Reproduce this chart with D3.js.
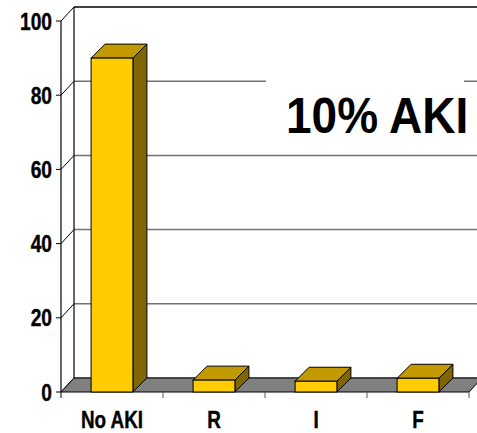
<!DOCTYPE html>
<html>
<head>
<meta charset="utf-8">
<script src="https://cdn.jsdelivr.net/npm/d3@7"></script>
<style>
  html, body { margin: 0; padding: 0; background: #fff; }
  svg { display: block; }
  text { font-family: "Liberation Sans", Arial, Helvetica, sans-serif; font-weight: bold; fill: #000; }
</style>
</head>
<body>
<svg id="chart" width="477" height="433"></svg>
<script>
// RIFLE classification counts (% of patients)
const categories = ["No AKI", "R", "I", "F"];
const values = [90, 3.2, 2.9, 3.7];
const yTicks = [0, 20, 40, 60, 80, 100];
const titleText = "10% AKI";

const svg = d3.select("#chart");

// Front plane of the 3D box
const x = d3.scaleBand()
  .domain(categories)
  .range([61, 469])
  .paddingInner(0.59)
  .paddingOuter(0.295);
const y = d3.scaleLinear().domain([0, 100]).range([392, 21]);

// Depth offsets: walls / bars
const WDX = 13, WDY = -14;
const BDX = 14, BDY = -14;

const gray = "#737373";

// Back-wall gridlines
const grid = svg.append("g");
yTicks.forEach(v => {
  grid.append("line")
    .attr("x1", 61 + WDX).attr("x2", 490)
    .attr("y1", y(v) + WDY).attr("y2", y(v) + WDY)
    .attr("stroke", v === 100 ? "#000" : gray)
    .attr("stroke-width", 1.5);
});
// Back wall left edge
grid.append("line")
  .attr("x1", 61 + WDX).attr("x2", 61 + WDX)
  .attr("y1", y(100) + WDY).attr("y2", y(0) + WDY)
  .attr("stroke", "#000").attr("stroke-width", 1.2);

// Side-wall diagonals at each tick
yTicks.forEach(v => {
  grid.append("line")
    .attr("x1", 61).attr("y1", y(v))
    .attr("x2", 61 + WDX).attr("y2", y(v) + WDY)
    .attr("stroke", "#000").attr("stroke-width", 1);
});

// Title label with white backing
svg.append("rect")
  .attr("x", 266).attr("y", 72).attr("width", 198).attr("height", 80)
  .attr("fill", "#fff");
svg.append("text")
  .attr("transform", "translate(286,133) scale(1,1.07)")
  .attr("font-size", 46)
  .text(titleText);

// Floor
const x0 = 61, x1 = 469;
svg.append("polygon")
  .attr("points", [
    [x0, y(0)], [x1, y(0)], [x1 + WDX, y(0) + WDY], [x0 + WDX, y(0) + WDY]
  ].map(p => p.join(",")).join(" "))
  .attr("fill", "#808080")
  .attr("stroke", "#000").attr("stroke-width", 1);

// Bars as 3D boxes
const bars = svg.append("g");
categories.forEach((c, i) => {
  const bx = x(c), bw = x.bandwidth();
  const top = y(values[i]), base = y(0);
  const g = bars.append("g")
    .attr("stroke", "#000").attr("stroke-width", 1).attr("stroke-linejoin", "miter");
  // right side
  g.append("polygon")
    .attr("points", [
      [bx + bw, top], [bx + bw + BDX, top + BDY], [bx + bw + BDX, base + BDY], [bx + bw, base]
    ].map(p => p.join(",")).join(" "))
    .attr("fill", "#806600");
  // top
  g.append("polygon")
    .attr("points", [
      [bx, top], [bx + BDX, top + BDY], [bx + bw + BDX, top + BDY], [bx + bw, top]
    ].map(p => p.join(",")).join(" "))
    .attr("fill", "#C29A00");
  // front
  g.append("rect")
    .attr("x", bx).attr("y", top)
    .attr("width", bw).attr("height", base - top)
    .attr("fill", "#FFCC00");
});

// Front value axis
const axis = svg.append("g");
axis.append("line")
  .attr("x1", 61).attr("x2", 61)
  .attr("y1", y(100)).attr("y2", y(0))
  .attr("stroke", "#000").attr("stroke-width", 1.2);
yTicks.forEach(v => {
  axis.append("line")
    .attr("x1", 56).attr("x2", 61)
    .attr("y1", y(v)).attr("y2", y(v))
    .attr("stroke", "#000").attr("stroke-width", 1);
  axis.append("text")
    .attr("transform", `translate(52,${y(v) + 8.5}) scale(0.8,1)`)
    .attr("text-anchor", "end")
    .attr("font-size", 24)
    .attr("stroke", "#000").attr("stroke-width", 0.4)
    .text(v);
});

// Category axis ticks at band boundaries
const step = x.step();
d3.range(categories.length + 1).forEach(k => {
  const tx = x0 + k * step;
  axis.append("line")
    .attr("x1", tx).attr("x2", tx)
    .attr("y1", y(0)).attr("y2", y(0) + 6)
    .attr("stroke", k === 0 ? "#000" : "#555").attr("stroke-width", 1);
});
categories.forEach(c => {
  axis.append("text")
    .attr("transform", `translate(${x(c) + x.bandwidth() / 2},427.5) scale(0.82,1)`)
    .attr("text-anchor", "middle")
    .attr("font-size", 23)
    .attr("stroke", "#000").attr("stroke-width", 0.4)
    .text(c);
});
</script>
</body>
</html>
